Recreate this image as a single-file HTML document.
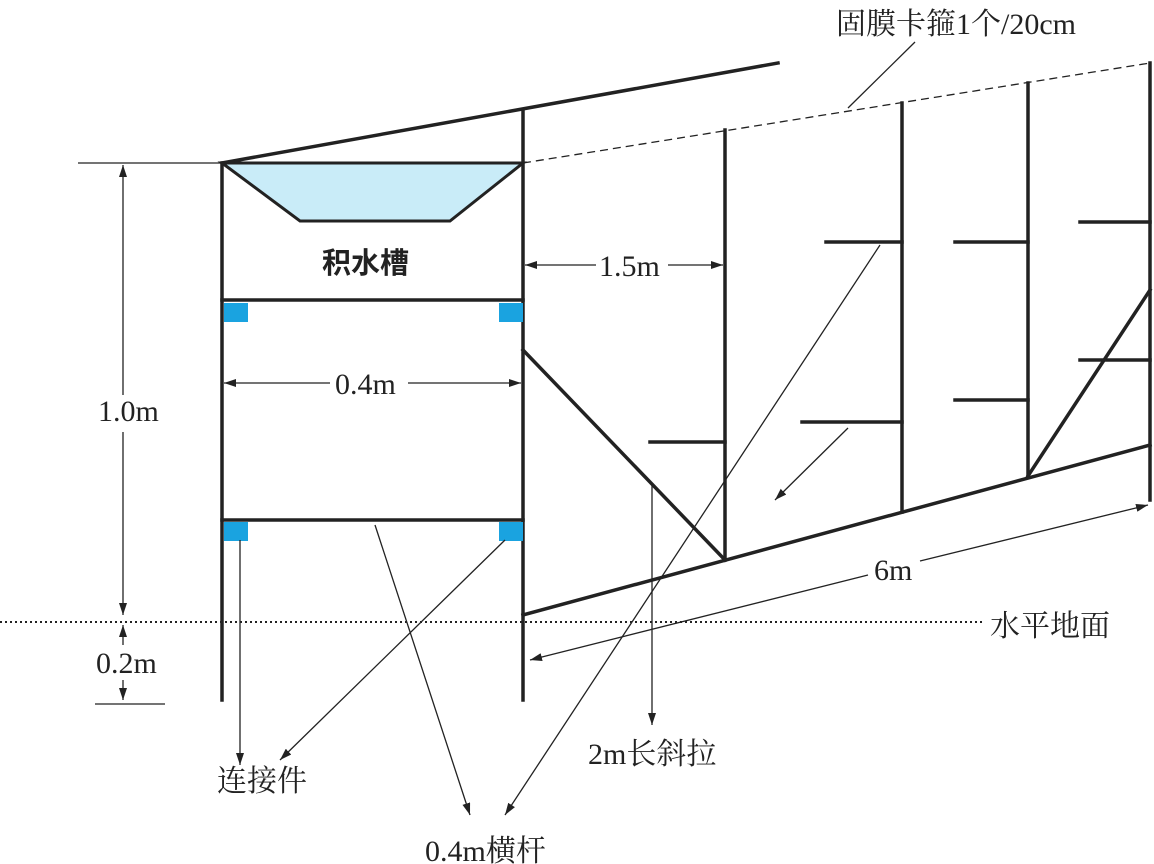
<!DOCTYPE html>
<html><head><meta charset="utf-8"><style>
html,body{margin:0;padding:0;background:#fff;}
svg{display:block;}
text{font-family:"Liberation Serif","Noto Serif CJK SC","Noto Sans CJK SC",serif;font-size:30px;fill:#222;}
</style></head><body>
<svg width="1154" height="864" viewBox="0 0 1154 864" xmlns="http://www.w3.org/2000/svg">
<defs>
<marker id="a" viewBox="0 0 12 8" refX="12" refY="4" markerWidth="12" markerHeight="8" markerUnits="userSpaceOnUse" orient="auto-start-reverse"><path d="M0,0 L12,4 L0,8 Z" fill="#222"/></marker>
</defs>
<polygon points="222,163 523,163 450,221 300,221" fill="#c9ecf8" stroke="#222" stroke-width="3"/>
<g stroke="#222" stroke-width="3.5" fill="none" stroke-linecap="square">
<line x1="222" y1="163" x2="222" y2="700"/>
<line x1="523" y1="110" x2="523" y2="700"/>
<line x1="222" y1="163" x2="778" y2="63"/>
<line x1="222" y1="300" x2="523" y2="300"/>
<line x1="222" y1="520" x2="523" y2="520"/>
<line x1="523" y1="615" x2="1150" y2="445"/>
<line x1="725" y1="130" x2="725" y2="560"/>
<line x1="902" y1="103" x2="902" y2="512"/>
<line x1="1028" y1="83" x2="1028" y2="476"/>
<line x1="1150" y1="63" x2="1150" y2="500"/>
<line x1="523" y1="350" x2="725" y2="560"/>
<line x1="1028" y1="476" x2="1150" y2="290"/>
<line x1="650" y1="442" x2="725" y2="442"/>
<line x1="826" y1="242" x2="902" y2="242"/>
<line x1="802" y1="422" x2="902" y2="422"/>
<line x1="955" y1="242" x2="1028" y2="242"/>
<line x1="955" y1="400" x2="1028" y2="400"/>
<line x1="1080" y1="222" x2="1150" y2="222"/>
<line x1="1080" y1="360" x2="1150" y2="360"/>
</g>
<line x1="523" y1="163" x2="1150" y2="63" stroke="#222" stroke-width="1.3" stroke-dasharray="8,5"/>
<line x1="0" y1="622" x2="985" y2="622" stroke="#222" stroke-width="2" stroke-dasharray="2,3"/>
<g fill="#1aa3e0">
<rect x="224" y="303" width="24" height="19"/><rect x="499" y="303" width="24" height="19"/>
<rect x="224" y="522" width="24" height="19"/><rect x="499" y="522" width="24" height="19"/>
</g>
<g stroke="#222" stroke-width="1.3" fill="none">
<line x1="78" y1="163" x2="222" y2="163"/>
<line x1="95" y1="704" x2="165" y2="704"/>
<line x1="123" y1="165" x2="123" y2="395" marker-start="url(#a)"/>
<line x1="123" y1="432" x2="123" y2="615" marker-end="url(#a)"/>
<line x1="123" y1="625" x2="123" y2="645" marker-start="url(#a)"/>
<line x1="123" y1="680" x2="123" y2="700" marker-end="url(#a)"/>
<line x1="525" y1="265" x2="596" y2="265" marker-start="url(#a)"/>
<line x1="668" y1="265" x2="723" y2="265" marker-end="url(#a)"/>
<line x1="224" y1="383" x2="330" y2="383" marker-start="url(#a)"/>
<line x1="408" y1="383" x2="521" y2="383" marker-end="url(#a)"/>
<line x1="530" y1="660" x2="868" y2="575" marker-start="url(#a)"/>
<line x1="920" y1="561" x2="1148" y2="505" marker-end="url(#a)"/>
<line x1="375" y1="525" x2="470" y2="815" marker-end="url(#a)"/>
<line x1="880" y1="245" x2="505" y2="815" marker-end="url(#a)"/>
<line x1="240" y1="540" x2="240" y2="765" marker-end="url(#a)"/>
<line x1="505" y1="540" x2="280" y2="760" marker-end="url(#a)"/>
<line x1="652" y1="485" x2="652" y2="725" marker-end="url(#a)"/>
<line x1="848" y1="428" x2="775" y2="500" marker-end="url(#a)"/>
<line x1="915" y1="42" x2="848" y2="108"/>
</g>
<text x="836" y="34">固膜卡箍1个/20cm</text>
<text x="322" y="273" style="font-family:'Noto Sans CJK SC',sans-serif;font-weight:bold;font-size:29px">积水槽</text>
<text x="599" y="276">1.5m</text>
<text x="335" y="394">0.4m</text>
<text x="98" y="421">1.0m</text>
<text x="96" y="673">0.2m</text>
<text x="874" y="580">6m</text>
<text x="990" y="636">水平地面</text>
<text x="588" y="764">2m长斜拉</text>
<text x="217" y="791">连接件</text>
<text x="425" y="861">0.4m横杆</text>
</svg>
</body></html>
